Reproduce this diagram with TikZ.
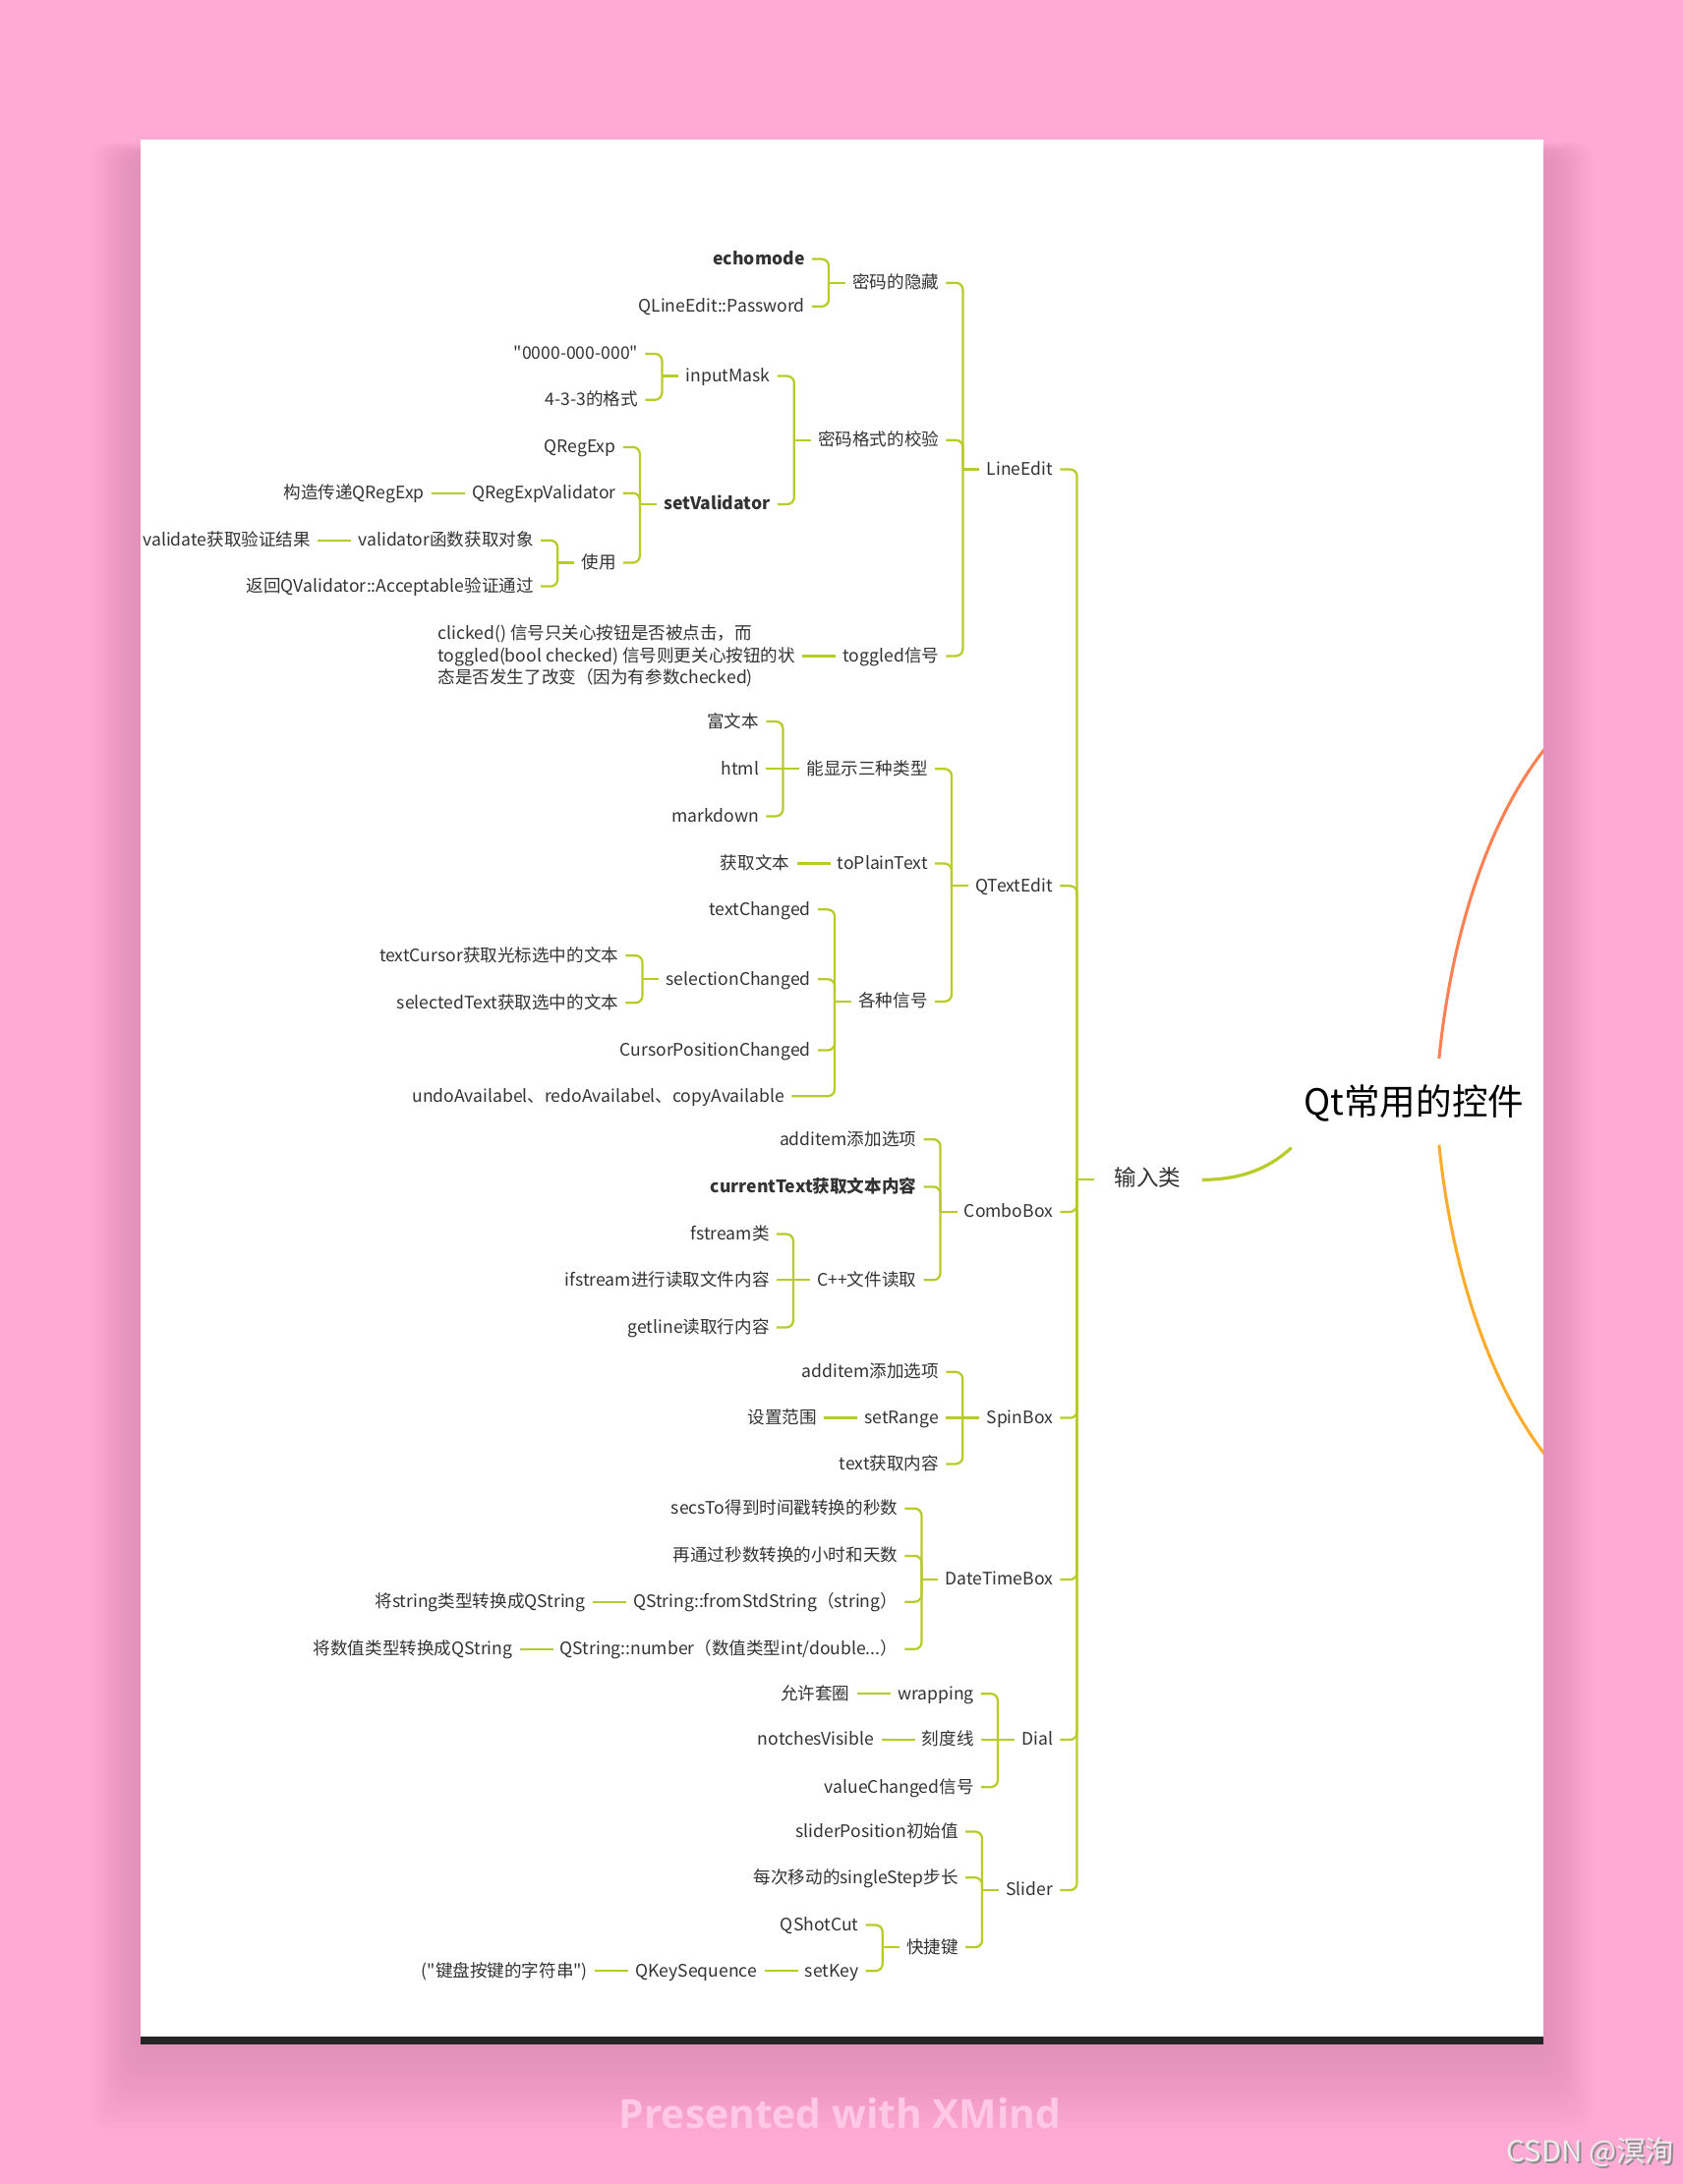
\documentclass[tikz,border=0pt]{standalone}
\usepackage{fontspec}
\setmainfont{Noto Sans CJK SC}
\newfontfamily\wmfont{Open Sans}

\definecolor{bgpink}{RGB}{255,170,212}
\definecolor{mmgreen}{RGB}{184,204,40}
\definecolor{mmtext}{RGB}{51,51,51}
\definecolor{arcorange}{RGB}{255,128,82}
\definecolor{arcyellow}{RGB}{255,172,44}
\definecolor{barblack}{RGB}{37,37,40}
\definecolor{wmpink}{RGB}{255,200,229}
\definecolor{shadowpink}{RGB}{190,110,150}

\tikzset{
  lbl/.style={text=mmtext, inner xsep=5pt, inner ysep=0pt, text height=11pt, text depth=2.5pt,
    font=\fontsize{12.5}{16}\selectfont},
  strong/.style={font=\fontsize{12.5}{16}\selectfont\bfseries},
  lvltwo/.style={lbl, anchor=east},
  kid/.style={lbl, anchor=east, xshift=-0.85cm},
  branch/.style={draw=mmgreen, line width=1.6pt},
}

% spine 12 units left of the parent, rounded elbow into the child
\newcommand{\mmlink}[2]{%
  \path (#1.west) ++(-12,0) coordinate (spine);
  \draw[branch] (#1.west) -- (spine);
  \draw[branch, rounded corners=5pt] (spine) |- (#2.east);}

\begin{document}
\begin{tikzpicture}[x=0.03543cm, y=-0.03543cm]
    \useasboundingbox (0,0) rectangle (1208,1568);
    \fill[bgpink] (0,0) rectangle (1208,1568);
    % soft shadow under the sheet
    \foreach \i in {1,...,16}
        \fill[shadowpink, opacity=0.022, rounded corners=12pt]
            (101-2.2*\i,112-0.6*\i) rectangle (1108+2.2*\i,1468+4*\i);
    \fill[white] (101,100) rectangle (1108,1468);
    \fill[barblack] (101,1462) rectangle (1108,1468);
    \node[text=wmpink, font=\wmfont\bfseries\fontsize{29}{34}\selectfont] (brand) at (603,1517) {Presented with XMind};
    \node[anchor=east, text=black!45, font=\fontsize{21}{25}\selectfont] (csdnsh) at (1207,1546.5) {CSDN @溟洵};
    \node[anchor=east, text=black!8, font=\fontsize{21}{25}\selectfont] (csdn) at (1205.5,1545) {CSDN @溟洵};

    % centre and the two cut-off main branches
    \node[text=black, font=\fontsize{26}{30}\selectfont] (root) at (1015,792) {Qt常用的控件};
    \begin{scope}
        \clip (101,100) rectangle (1108,1462);
        \coordinate (rtop) at (1033,760);
        \coordinate (rbot) at (1033,822);
        \coordinate (outtop) at (1130,515);
        \coordinate (outbot) at (1130,1068);
        \draw[arcorange, line width=2.2pt] (rtop) .. controls (1043,660) and (1075,565) .. (outtop);
        \draw[arcyellow, line width=2.2pt] (rbot) .. controls (1043,920) and (1075,1015) .. (outbot);
    \end{scope}

    \node[lbl, font=\fontsize{16}{19}\selectfont, inner xsep=15pt] (in) at (824,847) {输入类};
    \coordinate (rootin) at (927,824);
    \draw[mmgreen, line width=2.3pt] (in.east) .. controls (895,847) and (914,836) .. (rootin);

    \node[lvltwo] (le) at (761,337) {LineEdit};
    \node[lvltwo] (te) at (761,636) {QTextEdit};
    \node[lvltwo] (cb) at (761,870) {ComboBox};
    \node[lvltwo] (sb) at (761,1018) {SpinBox};
    \node[lvltwo] (dt) at (761,1134) {DateTimeBox};
    \node[lvltwo] (dial) at (761,1249) {Dial};
    \node[lvltwo] (sl) at (761,1357) {Slider};

    % LineEdit
    \node[kid] (hide) at (le.west |- 0,203) {密码的隐藏};
    \node[kid, strong] (echo) at (hide.west |- 0,186) {echomode};
    \node[kid] (pwd) at (hide.west |- 0,220) {QLineEdit::Password};
    \node[kid] (fmt) at (le.west |- 0,316) {密码格式的校验};
    \node[kid] (mask) at (fmt.west |- 0,270) {inputMask};
    \node[kid] (mone) at (mask.west |- 0,254) {\textquotedbl{}0000-000-000\textquotedbl{}};
    \node[kid] (mtwo) at (mask.west |- 0,287) {4-3-3的格式};
    \node[kid, strong] (setv) at (fmt.west |- 0,362) {setValidator};
    \node[kid] (rx) at (setv.west |- 0,321) {QRegExp};
    \node[kid] (rxv) at (setv.west |- 0,354) {QRegExpValidator};
    \node[kid] (rxc) at (rxv.west |- 0,354) {构造传递QRegExp};
    \node[kid] (use) at (setv.west |- 0,404) {使用};
    \node[kid] (vf) at (use.west |- 0,388) {validator函数获取对象};
    \node[kid] (vr) at (vf.west |- 0,388) {validate获取验证结果};
    \node[kid] (acc) at (use.west |- 0,421) {返回QValidator::Acceptable验证通过};
    \node[kid] (tog) at (le.west |- 0,471) {toggled信号};
    \node[kid, align=left, text height=, text depth=] (togd) at (tog.west |- 0,471)
        {clicked() 信号只关心按钮是否被点击，而\\toggled(bool checked) 信号则更关心按钮的状\\态是否发生了改变（因为有参数checked)};

    % QTextEdit
    \node[kid] (show) at (te.west |- 0,552) {能显示三种类型};
    \node[kid] (rich) at (show.west |- 0,518) {富文本};
    \node[kid] (html) at (show.west |- 0,552) {html};
    \node[kid] (md) at (show.west |- 0,586) {markdown};
    \node[kid] (plain) at (te.west |- 0,620) {toPlainText};
    \node[kid] (gett) at (plain.west |- 0,620) {获取文本};
    \node[kid] (sig) at (te.west |- 0,719) {各种信号};
    \node[kid] (tc) at (sig.west |- 0,653) {textChanged};
    \node[kid] (sc) at (sig.west |- 0,703) {selectionChanged};
    \node[kid] (tcur) at (sc.west |- 0,686) {textCursor获取光标选中的文本};
    \node[kid] (stxt) at (sc.west |- 0,720) {selectedText获取选中的文本};
    \node[kid] (cpc) at (sig.west |- 0,754) {CursorPositionChanged};
    \node[kid, xshift=-0.67cm] (undo) at (sig.west |- 0,787) {undoAvailabel、redoAvailabel、copyAvailable};

    % ComboBox
    \node[kid] (addc) at (cb.west |- 0,818) {additem添加选项};
    \node[kid, strong] (cur) at (cb.west |- 0,852) {currentText获取文本内容};
    \node[kid] (cpp) at (cb.west |- 0,919) {C++文件读取};
    \node[kid] (fs) at (cpp.west |- 0,886) {fstream类};
    \node[kid] (ifs) at (cpp.west |- 0,919) {ifstream进行读取文件内容};
    \node[kid] (gl) at (cpp.west |- 0,953) {getline读取行内容};

    % SpinBox
    \node[kid] (adds) at (sb.west |- 0,985) {additem添加选项};
    \node[kid] (rng) at (sb.west |- 0,1018) {setRange};
    \node[kid] (rngc) at (rng.west |- 0,1018) {设置范围};
    \node[kid] (txt) at (sb.west |- 0,1051) {text获取内容};

    % DateTimeBox
    \node[kid] (secs) at (dt.west |- 0,1083) {secsTo得到时间戳转换的秒数};
    \node[kid] (hrs) at (dt.west |- 0,1117) {再通过秒数转换的小时和天数};
    \node[kid] (fss) at (dt.west |- 0,1150) {QString::fromStdString（string）};
    \node[kid] (fssc) at (fss.west |- 0,1150) {将string类型转换成QString};
    \node[kid] (num) at (dt.west |- 0,1184) {QString::number（数值类型int/double...）};
    \node[kid] (numc) at (num.west |- 0,1184) {将数值类型转换成QString};

    % Dial
    \node[kid] (wrap) at (dial.west |- 0,1216) {wrapping};
    \node[kid] (wrapc) at (wrap.west |- 0,1216) {允许套圈};
    \node[kid] (notch) at (dial.west |- 0,1249) {刻度线};
    \node[kid] (notchc) at (notch.west |- 0,1249) {notchesVisible};
    \node[kid] (vchg) at (dial.west |- 0,1283) {valueChanged信号};

    % Slider
    \node[kid] (spos) at (sl.west |- 0,1315) {sliderPosition初始值};
    \node[kid] (sstep) at (sl.west |- 0,1348) {每次移动的singleStep步长};
    \node[kid] (key) at (sl.west |- 0,1398) {快捷键};
    \node[kid] (qsc) at (key.west |- 0,1382) {QShotCut};
    \node[kid] (skey) at (key.west |- 0,1415) {setKey};
    \node[kid] (kseq) at (skey.west |- 0,1415) {QKeySequence};
    \node[kid] (kstr) at (kseq.west |- 0,1415) {(\textquotedbl{}键盘按键的字符串\textquotedbl{})};

    % children above or below their parent
    \foreach \src/\dst in {in/le, in/te, in/cb, in/sb, in/dt, in/dial, in/sl,
        le/hide, hide/echo, hide/pwd, le/fmt, fmt/mask, mask/mone, mask/mtwo,
        fmt/setv, setv/rx, setv/rxv, setv/use, use/vf, use/acc, le/tog,
        te/show, show/rich, show/md, te/plain, te/sig,
        sig/tc, sig/sc, sc/tcur, sc/stxt, sig/cpc, sig/undo,
        cb/addc, cb/cur, cb/cpp, cpp/fs, cpp/gl,
        sb/adds, sb/txt, dt/secs, dt/hrs, dt/fss, dt/num,
        dial/wrap, dial/vchg, sl/spos, sl/sstep, sl/key, key/qsc, key/skey}
        \mmlink{\src}{\dst};
    % children level with their parent
    \foreach \src/\dst in {rxv/rxc, vf/vr, tog/togd, show/html, plain/gett,
        cpp/ifs, sb/rng, rng/rngc, fss/fssc, num/numc, wrap/wrapc,
        dial/notch, notch/notchc, skey/kseq, kseq/kstr}
        \draw[branch] (\src.west) -- (\dst.east);
\end{tikzpicture}
\end{document}
